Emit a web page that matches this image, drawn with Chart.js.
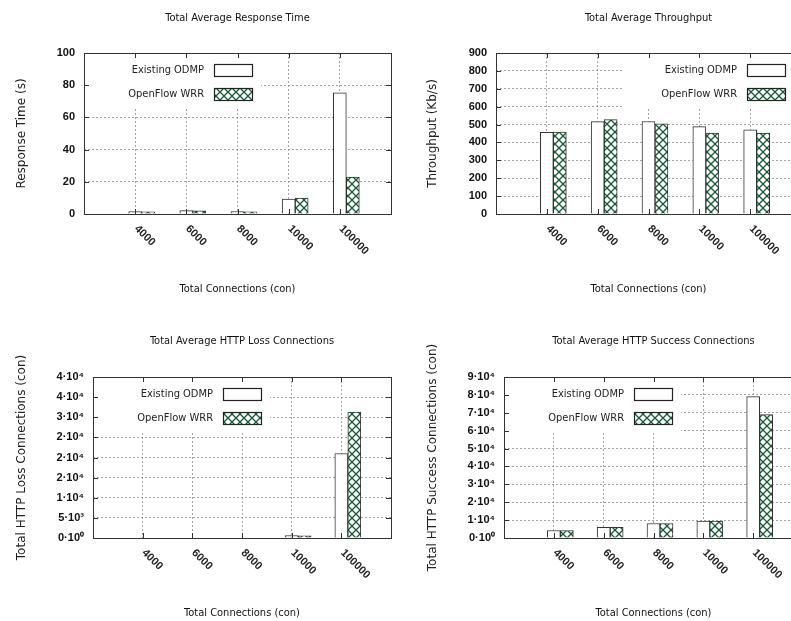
<!DOCTYPE html>
<html><head><meta charset="utf-8">
<script src="https://cdn.jsdelivr.net/npm/chart.js@4/dist/chart.umd.min.js"></script>
<style>
html,body{margin:0;padding:0;background:#fff;}
#wrap{position:relative;width:791px;height:621px;overflow:hidden;background:#fff;}
canvas{position:absolute;display:block;}
</style></head><body>
<div id="wrap">
<canvas id="c1" width="395" height="310" style="left:0;top:0;width:395px;height:310px"></canvas>
<canvas id="c2" width="420" height="310" style="left:395px;top:0;width:420px;height:310px"></canvas>
<canvas id="c3" width="395" height="311" style="left:0;top:310px;width:395px;height:311px"></canvas>
<canvas id="c4" width="420" height="311" style="left:395px;top:310px;width:420px;height:311px"></canvas>
</div>
<script>
// ---------- data ----------
const categories = ['4000', '6000', '8000', '10000', '100000'];
const seriesNames = ['Existing ODMP', 'OpenFlow WRR'];

const respOdmp = [1.5, 2.1, 1.5, 9.3, 75.2];
const respWrr  = [1.4, 2.0, 1.4, 9.9, 23.0];

const thrOdmp = [457, 516, 517, 488, 470];
const thrWrr  = [458, 528, 504, 453, 453];

const lossOdmp = [0, 0, 0, 600, 21000];
const lossWrr  = [0, 0, 0, 550, 31300];

const succOdmp = [4200, 6000, 8100, 9400, 79000];
const succWrr  = [4200, 5950, 8100, 9400, 69000];

const lossTickLabels = ['0·10⁰', '5·10³', '1·10⁴', '2·10⁴', '2·10⁴', '2·10⁴', '3·10⁴', '4·10⁴', '4·10⁴'];
const succTickLabels = ['0·10⁰', '1·10⁴', '2·10⁴', '3·10⁴', '4·10⁴', '5·10⁴', '6·10⁴', '7·10⁴', '8·10⁴', '9·10⁴'];

// ---------- styling ----------
const NARROW = "'DejaVu Sans Condensed', 'Liberation Sans', Arial, sans-serif";
const TICKF = "'Liberation Sans', Arial, sans-serif";
const WIDE = "'DejaVu Sans', Verdana, sans-serif";
const INK = '#222';
const GRID = 'rgba(140,140,140,0.8)';

function makeHatch() {
  const c = document.createElement('canvas');
  c.width = 8; c.height = 8;
  const g = c.getContext('2d');
  g.fillStyle = '#ffffff';
  g.fillRect(0, 0, 8, 8);
  g.strokeStyle = '#145a34';
  g.lineWidth = 1.3;
  g.beginPath();
  g.moveTo(-1, -1); g.lineTo(9, 9);
  g.moveTo(9, -1); g.lineTo(-1, 9);
  g.stroke();
  return g.createPattern(c, 'repeat');
}

const gpDecor = {
  id: 'gpDecor',
  beforeDatasetsDraw(chart, args, opts) {
    const {ctx, chartArea: a} = chart;
    const w = 177, h = 54;
    const x0 = opts.side === 'right' ? a.right - w : a.left;
    ctx.save();
    ctx.fillStyle = '#ffffff';
    ctx.fillRect(x0, a.top, w, h);
    ctx.restore();
  },
  afterDatasetsDraw(chart, args, opts) {
    const {ctx, chartArea: a} = chart;
    const xs = chart.scales.x, ys = chart.scales.y;
    ctx.save();
    // inward tick marks
    ctx.strokeStyle = '#333';
    ctx.lineWidth = 1;
    ctx.beginPath();
    ys.ticks.forEach((t, i) => {
      const y = Math.round(ys.getPixelForTick(i)) + 0.5;
      ctx.moveTo(a.left, y); ctx.lineTo(a.left + 5, y);
      ctx.moveTo(a.right, y); ctx.lineTo(a.right - 5, y);
    });
    xs.ticks.forEach((t, i) => {
      if (!xs.getLabelForValue(t.value)) return;
      const x = Math.round(xs.getPixelForTick(i)) + 0.5;
      ctx.moveTo(x, a.bottom); ctx.lineTo(x, a.bottom - 5);
      ctx.moveTo(x, a.top); ctx.lineTo(x, a.top + 5);
    });
    ctx.stroke();
    // border
    ctx.strokeStyle = '#333';
    ctx.lineWidth = 1;
    ctx.strokeRect(Math.round(a.left) + 0.5, Math.round(a.top) + 0.5,
                   Math.round(a.right - a.left), Math.round(a.bottom - a.top));
    // rotated x labels
    ctx.fillStyle = INK;
    ctx.font = 'bold 11px ' + TICKF;
    ctx.textAlign = 'left';
    ctx.textBaseline = 'middle';
    xs.ticks.forEach((t, i) => {
      const lab = xs.getLabelForValue(t.value);
      if (!lab) return;
      const x = xs.getPixelForTick(i);
      ctx.save();
      ctx.translate(x + 1, a.bottom + 13);
      ctx.rotate(Math.PI / 4);
      ctx.fillText(lab, 0, 0);
      ctx.restore();
    });
    // legend
    const items = chart.data.datasets.filter(d => d.label);
    ctx.font = '11px ' + NARROW;
    ctx.textAlign = 'right';
    ctx.textBaseline = 'middle';
    items.forEach((d, i) => {
      const cy = a.top + 17 + i * 24;
      let bx, tx;
      if (opts.side === 'right') { bx = a.right - 54; tx = a.right - 64; }
      else { bx = a.left + 130; tx = a.left + 120; }
      ctx.fillStyle = INK;
      ctx.fillText(d.label, tx, cy);
      ctx.fillStyle = d.backgroundColor;
      ctx.fillRect(Math.round(bx), Math.round(cy - 6), 38, 12);
      ctx.strokeStyle = '#222';
      ctx.lineWidth = 1.2;
      ctx.strokeRect(Math.round(bx) + 0.5, Math.round(cy - 6) + 0.5, 38, 12);
    });
    ctx.restore();
  }
};

function makeChart(id, cfg) {
  const hatch = makeHatch();
  const labels = ['', ...categories, ''];
  new Chart(document.getElementById(id), {
    type: 'bar',
    data: {
      labels: labels,
      datasets: [
        { label: '', data: labels.map(() => null), backgroundColor: 'rgba(0,0,0,0)', borderWidth: 0 },
        { label: seriesNames[0], data: [null, ...cfg.a, null], backgroundColor: '#ffffff', borderColor: '#333', borderWidth: 1 },
        { label: seriesNames[1], data: [null, ...cfg.b, null], backgroundColor: hatch, borderColor: '#333', borderWidth: 1 }
      ]
    },
    options: {
      responsive: false,
      animation: false,
      devicePixelRatio: 1,
      layout: { padding: { left: 0, right: cfg.padRight, top: 0, bottom: 0 } },
      datasets: { bar: { barThickness: 13, grouped: true } },
      plugins: {
        legend: { display: false },
        tooltip: { enabled: false },
        title: {
          display: true, text: cfg.title, fullSize: false, color: '#111',
          font: { family: NARROW, size: 11, weight: 'normal', lineHeight: 1.2 },
          padding: { top: cfg.titleTop, bottom: cfg.titleBottom }
        },
        gpDecor: { side: cfg.side }
      },
      scales: {
        x: {
          type: 'category',
          offset: false,
          grid: { offset: false, color: GRID, drawTicks: false, lineWidth: 1 },
          border: { display: false, dash: [2, 2] },
          ticks: { display: false },
          title: {
            display: true, text: 'Total Connections (con)', color: '#111',
            font: { family: NARROW, size: 11, lineHeight: 1.2 },
            padding: { top: 0, bottom: cfg.xTitleBottom }
          },
          afterFit: s => { s.height = cfg.xHeight; }
        },
        y: {
          min: 0, max: cfg.max,
          grid: { color: GRID, drawTicks: false, lineWidth: 1 },
          border: { display: false, dash: [2, 2] },
          ticks: {
            stepSize: cfg.step, padding: 9, color: '#111',
            font: { family: TICKF, size: 11, weight: 'bold' },
            callback: cfg.tickLabels ? ((v, i) => cfg.tickLabels[i]) : (v => String(v))
          },
          title: {
            display: true, text: cfg.yTitle, color: INK,
            font: { family: WIDE, size: 12, lineHeight: 1.2 },
            padding: { top: cfg.yTitleTop, bottom: 0 }
          },
          afterFit: s => { s.width = cfg.yWidth; }
        }
      }
    },
    plugins: [gpDecor]
  });
}

makeChart('c1', {
  title: 'Total Average Response Time', yTitle: 'Response Time (s)',
  a: respOdmp, b: respWrr, max: 100, step: 20, side: 'left',
  padRight: 4, yWidth: 84, xHeight: 96, titleTop: 11.4, titleBottom: 28.4,
  yTitleTop: 14.8, xTitleBottom: 14.4
});
makeChart('c2', {
  title: 'Total Average Throughput', yTitle: 'Throughput (Kb/s)',
  a: thrOdmp, b: thrWrr, max: 900, step: 100, side: 'right',
  padRight: 14, yWidth: 101, xHeight: 96, titleTop: 11.4, titleBottom: 28.4,
  yTitleTop: 30.8, xTitleBottom: 14.4
});
makeChart('c3', {
  title: 'Total Average HTTP Loss Connections', yTitle: 'Total HTTP Loss Connections (con)',
  a: lossOdmp, b: lossWrr, max: 40000, step: 5000, side: 'left', tickLabels: lossTickLabels,
  padRight: 4, yWidth: 93, xHeight: 83, titleTop: 24.4, titleBottom: 29.4,
  yTitleTop: 14.8, xTitleBottom: 1.4
});
makeChart('c4', {
  title: 'Total Average HTTP Success Connections', yTitle: 'Total HTTP Success Connections (con)',
  a: succOdmp, b: succWrr, max: 90000, step: 10000, side: 'left', tickLabels: succTickLabels,
  padRight: 12, yWidth: 109, xHeight: 83, titleTop: 24.4, titleBottom: 29.4,
  yTitleTop: 30.8, xTitleBottom: 1.4
});
</script>
</body></html>
